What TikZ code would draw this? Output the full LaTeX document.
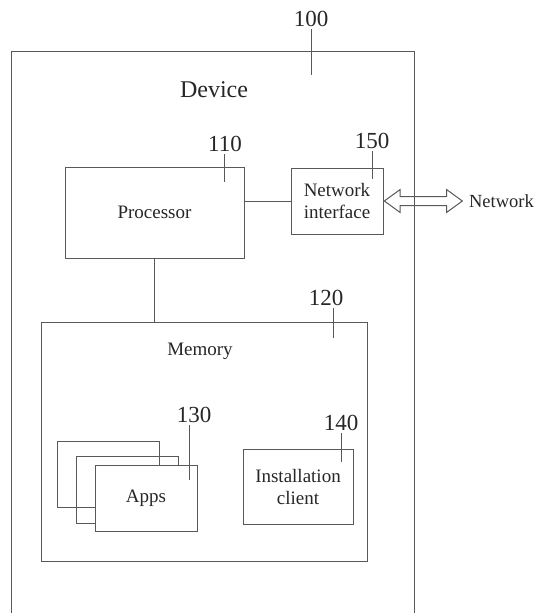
\documentclass[tikz,border=0pt]{standalone}
\usepackage{fontspec}
\setmainfont{Liberation Serif}
\usetikzlibrary{positioning,shapes.arrows}

\begin{document}
\begin{tikzpicture}[
  x=1pt, y=-1pt,
  line width=1pt,
  every node/.style={text=black!85},
  box/.style={rectangle, draw=black!65, align=center, font=\fontsize{19}{22}\selectfont},
  refnum/.style={font=\fontsize{23}{26}\selectfont, inner sep=2pt},
  lead/.style={draw=black!65},
  wire/.style={draw=black!65},
  dblarrow/.style={double arrow, draw=black!65, inner xsep=0pt, inner ysep=4pt, minimum height=78pt,
    double arrow head extend=7pt, double arrow tip angle=72}
]
\useasboundingbox (0,0) rectangle (538,613);

% device frame (open at the bottom)
\draw[wire] (11,613) -- (11,51) -- (414,51) -- (414,613);
\node[font=\fontsize{24}{28}\selectfont] (device) at (214,90) {Device};

% processor and network interface
\node[box, minimum width=179pt, minimum height=91pt] (proc) at (154.5,212.5) {Processor};
\node[box, minimum width=92pt, minimum height=66pt] (net) at (337,201) {Network\\interface};
\node[dblarrow, right=0pt of net] (arr) {};
\node[right=2pt of arr, font=\fontsize{18.5}{22}\selectfont] (network) {Network};

% memory with apps and installation client
\node[box, minimum width=326pt, minimum height=239pt] (mem) at (204,441.5) {};
\node[font=\fontsize{19}{22}\selectfont] (memlabel) at (200,351) {Memory};
\node[box, minimum width=102pt, minimum height=66pt] (app3) at (108,474) {};
\node[box, minimum width=102pt, minimum height=67pt] (app2) at (127,489.5) {};
\node[box, fill=white, minimum width=102pt, minimum height=66pt] (apps) at (146,498) {Apps};
\node[box, minimum width=110pt, minimum height=75pt] (inst) at (298,486.5) {Installation\\client};

\draw[wire] (net.west) -- (net.west -| proc.east);
\draw[wire] (proc.south) -- (proc.south |- mem.north);

% reference numerals
\node[refnum] (l100) at (311,19) {100};
\node[refnum] (l110) at (225,144) {110};
\node[refnum] (l150) at (372,141) {150};
\node[refnum] (l120) at (326,298) {120};
\node[refnum] (l130) at (194,415) {130};
\node[refnum] (l140) at (341,423) {140};
\coordinate (t100) at (311,75);
\coordinate (t110) at (224,182);
\coordinate (t150) at (372,179);
\coordinate (t120) at (333,338);
\coordinate (t130) at (189,480);
\coordinate (t140) at (341,462);
\draw[lead] (l100.south -| t100) -- (t100);
\draw[lead] (l110.south -| t110) -- (t110);
\draw[lead] (l150.south -| t150) -- (t150);
\draw[lead] (l120.south -| t120) -- (t120);
\draw[lead] (l130.south -| t130) -- (t130);
\draw[lead] (l140.south -| t140) -- (t140);

\end{tikzpicture}
\end{document}
